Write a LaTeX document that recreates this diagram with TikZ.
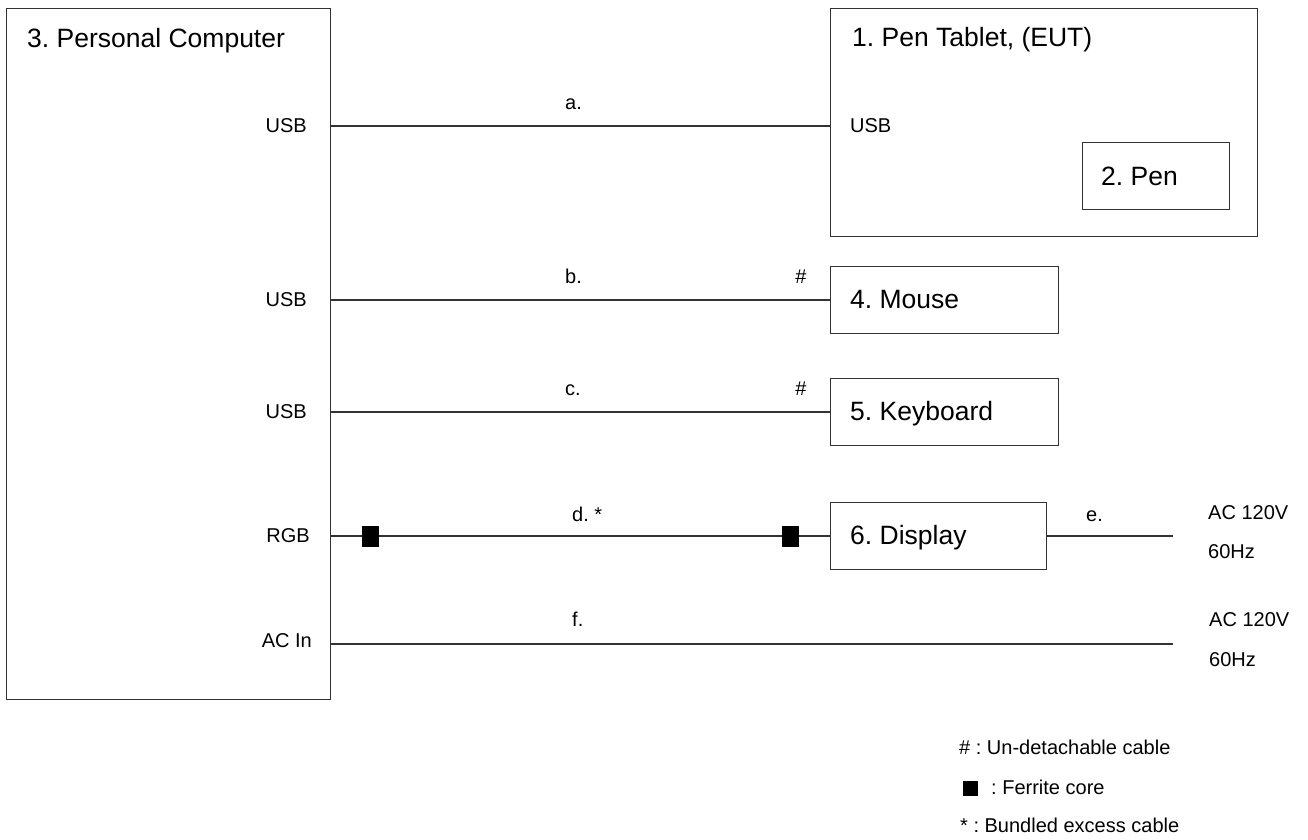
\documentclass[tikz,border=0pt]{standalone}
\usepackage{fontspec}
\setmainfont{Liberation Sans}
\frenchspacing
\begin{document}
\begin{tikzpicture}[x=1pt,y=-1pt,
  box/.style={draw=black!80, line width=1.3pt, inner sep=0pt, anchor=north west},
  cable/.style={draw=black!80, line width=1.3pt},
  big/.style={font=\fontsize{26.5}{30}\selectfont, inner sep=0pt, anchor=base west},
  small/.style={font=\fontsize{20}{24}\selectfont, inner sep=0pt},
  ferrite/.style={fill=black, minimum width=17pt, minimum height=21pt, inner sep=0pt}]
\useasboundingbox[fill=white] (0,0) rectangle (1308,839);

% boxes
\node[box, minimum width=324pt, minimum height=691pt] (pc) at (6,8) {};
\node[box, minimum width=427pt, minimum height=228pt] (tablet) at (830,8) {};
\node[box, minimum width=147pt, minimum height=67pt] (pen) at (1082,142) {};
\node[box, minimum width=228pt, minimum height=67pt] (mouse) at (830,266) {};
\node[box, minimum width=228pt, minimum height=67pt] (kbd) at (830,378) {};
\node[box, minimum width=216pt, minimum height=67pt] (disp) at (830,502) {};

% titles
\node[big] (pcT) at (27,47) {3. Personal Computer};
\node[big] (tabT) at (852,46) {1. Pen Tablet, (EUT)};
\node[big] (penT) at (1101,185) {2. Pen};
\node[big] (mouseT) at (850,308) {4. Mouse};
\node[big] (kbdT) at (850,420) {5. Keyboard};
\node[big] (dispT) at (850,544) {6. Display};

% port labels
\node[small, anchor=east] (pA) at (307,126) {USB};
\node[small, anchor=east] (pB) at (307,300) {USB};
\node[small, anchor=east] (pC) at (307,412) {USB};
\node[small, anchor=east] (pD) at (310,536) {RGB};
\node[small, anchor=east] (pF) at (312,641) {AC In};
\node[small, anchor=west] (tA) at (850,126) {USB};

% free ends
\coordinate (endE) at (1173,536);
\coordinate (endF) at (1173,644);

% cables
\draw[cable] (pc.east |- pA) -- (tablet.west |- pA);
\draw[cable] (pc.east |- pB) -- (mouse.west |- pB);
\draw[cable] (pc.east |- pC) -- (kbd.west |- pC);
\draw[cable] (pc.east |- pD) -- (disp.west |- pD);
\draw[cable] (disp.east |- endE) -- (endE);
\draw[cable] (pc.east |- endF) -- (endF);

% ferrite cores
\node[ferrite] (fer1) at (370,536) {};
\node[ferrite] (fer2) at (790,536) {};

% cable labels
\node[small, anchor=base west] (la) at (565,109) {a.};
\node[small, anchor=base west] (lb) at (565,283) {b.};
\node[small, anchor=base west] (lc) at (565,395) {c.};
\node[small, anchor=base west] (ld) at (572,521) {d. *};
\node[small, anchor=base west] (le) at (1086,521) {e.};
\node[small, anchor=base west] (lf) at (572,626) {f.};
\node[small, anchor=base] (hb) at (801,283) {\#};
\node[small, anchor=base] (hc) at (801,395) {\#};

% power
\node[small, anchor=west] (ac1) at (1208,513) {AC 120V};
\node[small, anchor=west] (hz1) at (1208,552) {60Hz};
\node[small, anchor=west] (ac2) at (1209,620) {AC 120V};
\node[small, anchor=west] (hz2) at (1209,660) {60Hz};

% legend
\node[small, anchor=west] (leg1) at (959,747) {\# : Un-detachable cable};
\node[fill=black, minimum width=15pt, minimum height=15pt, inner sep=0pt] (legsq) at (970.5,788) {};
\node[small, anchor=west] (leg2) at (991,787) {: Ferrite core};
\node[small, anchor=west] (leg3) at (960,825) {* : Bundled excess cable};
\end{tikzpicture}
\end{document}
